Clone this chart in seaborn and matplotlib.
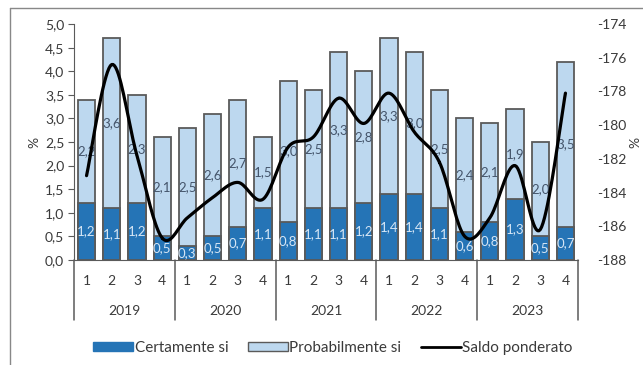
import numpy as np
import pandas as pd
import matplotlib
matplotlib.use("Agg")
import matplotlib.pyplot as plt
import seaborn as sns
from matplotlib.patches import Patch
from matplotlib.lines import Line2D

years = ["2019", "2020", "2021", "2022", "2023"]
quarters = ["1", "2", "3", "4"]
certamente = [1.2, 1.1, 1.2, 0.5, 0.3, 0.5, 0.7, 1.1, 0.8, 1.1,
              1.1, 1.2, 1.4, 1.4, 1.1, 0.6, 0.8, 1.3, 0.5, 0.7]
probabilmente = [2.2, 3.6, 2.3, 2.1, 2.5, 2.6, 2.7, 1.5, 3.0, 2.5,
                 3.3, 2.8, 3.3, 3.0, 2.5, 2.4, 2.1, 1.9, 2.0, 3.5]
saldo = [-183.0, -176.4, -181.8, -186.7, -185.5, -184.3, -183.4, -184.4, -181.3, -180.7,
         -178.4, -179.9, -178.1, -180.4, -182.2, -186.6, -185.5, -182.4, -186.2, -178.1]

dark = "#2574b6"
light = "#bdd8ef"
edge = "#5a5a5a"
txt = "#3a3a3a"


def fmt(v):
    return f"{v:.1f}".replace(".", ",")


def smooth(xs, ys, n=20):
    # catmull-rom through the points, like the excel smoothed line
    px = np.r_[xs[0], xs, xs[-1]]
    py = np.r_[ys[0], ys, ys[-1]]
    outx, outy = [], []
    t = np.linspace(0, 1, n)
    for i in range(1, len(px) - 2):
        for p, out in ((px, outx), (py, outy)):
            p0, p1, p2, p3 = p[i - 1], p[i], p[i + 1], p[i + 2]
            out.extend(0.5 * (2 * p1 + (-p0 + p2) * t + (2 * p0 - 5 * p1 + 4 * p2 - p3) * t ** 2
                              + (-p0 + 3 * p1 - 3 * p2 + p3) * t ** 3))
    return np.array(outx), np.array(outy)


sns.set_style("white")
plt.rcParams['font.family'] = ['Lato', 'DejaVu Sans']
plt.rcParams['font.size'] = 10
plt.rcParams['text.color'] = txt
plt.rcParams['ytick.color'] = txt
plt.rcParams['axes.labelcolor'] = txt

labels = [f"{y}-{q}" for y in years for q in quarters]
df = pd.DataFrame({"periodo": labels, "cert": certamente, "prob": probabilmente})
df["totale"] = df["cert"] + df["prob"]

fig = plt.figure(figsize=(6.43, 3.65), dpi=100)
ax = fig.add_axes([0.115, 0.288, 0.784, 0.646])

sns.barplot(data=df, x="periodo", y="totale", color=light, edgecolor=edge, linewidth=1.3,
            width=0.68, saturation=1, ax=ax)
sns.barplot(data=df, x="periodo", y="cert", color=dark, edgecolor=edge, linewidth=1.3,
            width=0.68, saturation=1, ax=ax)

for i, (c, p) in enumerate(zip(certamente, probabilmente)):
    ax.text(i, c / 2, fmt(c), ha="center", va="center", color="#d6e6f5", fontsize=9.5)
    ax.text(i, c + p / 2, fmt(p), ha="center", va="center", color="#44546a", fontsize=9.5)

ax.set_xlim(-0.5, 19.5)
ax.set_ylim(0, 5)
ax.set_yticks(np.arange(0, 5.01, 0.5))
ax.set_yticklabels([fmt(v) for v in np.arange(0, 5.01, 0.5)])
ax.set_xticks([])
ax.set_xlabel("")
ax.set_ylabel("%", labelpad=3)
ax.tick_params(axis="y", left=True, length=4, color=edge, pad=3)
for s in ["top", "right"]:
    ax.spines[s].set_visible(False)
ax.spines["left"].set_color(edge)
ax.spines["bottom"].set_color(edge)

# two level x axis
trans = ax.get_xaxis_transform()
for i in range(20):
    ax.text(i, -0.09, quarters[i % 4], transform=trans, ha="center", va="center")
for k, y in enumerate(years):
    ax.text(4 * k + 1.5, -0.215, y, transform=trans, ha="center", va="center")
for k in range(6):
    ax.plot([4 * k - 0.5] * 2, [0, -0.255], transform=trans, color=edge, lw=1.1, clip_on=False)

ax2 = ax.twinx()
sx, sy = smooth(np.arange(20, dtype=float), np.array(saldo))
ax2.plot(sx, sy, color="black", lw=2.3, solid_capstyle="round")
ax2.set_ylim(-188, -174)
ax2.set_yticks(np.arange(-188, -173, 2))
ax2.set_yticklabels([str(v) for v in range(-188, -173, 2)])
ax2.tick_params(axis="y", right=False, pad=10)
ax2.set_ylabel("%", rotation=90, labelpad=2)
for s in ax2.spines.values():
    s.set_visible(False)

handles = [Patch(facecolor=dark, edgecolor=dark),
           Patch(facecolor=light, edgecolor=edge),
           Line2D([0], [0], color="black", lw=2)]
fig.legend(handles, ["Certamente si", "Probabilmente si", "Saldo ponderato"], loc="center",
           bbox_to_anchor=(0.518, 0.047), ncol=3, frameon=False, handlelength=2.6,
           handleheight=0.6, handletextpad=0.1, columnspacing=1.3, fontsize=11)

fig.add_artist(Line2D([0.015, 0.015], [0.0, 0.978], transform=fig.transFigure, color="#888888", lw=1))
fig.add_artist(Line2D([0.015, 1.0], [0.978, 0.978], transform=fig.transFigure, color="#888888", lw=1))

fig.savefig("out.png", dpi=100)
